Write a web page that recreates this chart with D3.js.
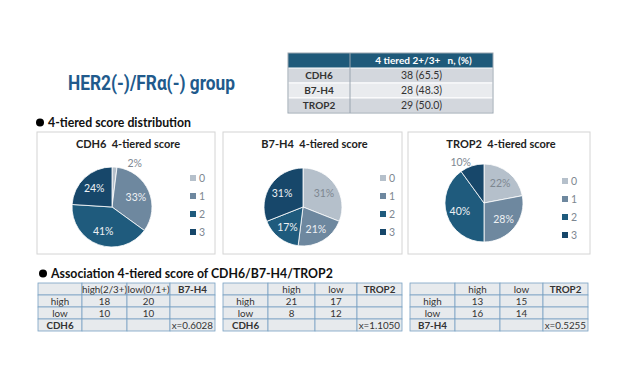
<!DOCTYPE html>
<html>
<head>
<meta charset="utf-8">
<script src="https://cdn.jsdelivr.net/npm/d3@7"></script>
<style>
  body { margin: 0; background: #fff; }
  text { font-family: Lato, "Open Sans", sans-serif; }
</style>
</head>
<body>
<div id="chart"></div>
<script>
const width = 620;
const height = 377;

// data
const scoreLevels = ["0", "1", "2", "3"];
const markers = ["CDH6", "B7-H4", "TROP2"];
const cdh6Pct = [2, 33, 41, 24];
const b7h4Pct = [31, 21, 17, 31];
const trop2Pct = [22, 28, 40, 10];
const posCounts = ["38 (65.5)", "28 (48.3)", "29 (50.0)"];

// association tables
const assocHeaders = [["high(2/3+)", "low(0/1+)", "B7-H4"], ["high", "low", "TROP2"], ["high", "low", "TROP2"]];
const assocRowMarker = ["CDH6", "CDH6", "B7-H4"];
const assocHigh = [[18, 20], [21, 17], [13, 15]];
const assocLow = [[10, 10], [8, 12], [16, 14]];
const assocX = ["x=0.6028", "x=1.1050", "x=0.5255"];

const colors = d3.scaleOrdinal().domain(scoreLevels)
  .range(["#b5c0cb", "#6e889f", "#1f5b7d", "#17476a"]);

const svg = d3.select("#chart").append("svg")
  .attr("width", width).attr("height", height);

// main title (condensed look forced with textLength)
svg.append("text")
  .attr("x", 68).attr("y", 90)
  .attr("textLength", 167).attr("lengthAdjust", "spacingAndGlyphs")
  .style("font-family", "Roboto, 'Liberation Sans', sans-serif")
  .style("font-weight", "bold")
  .style("font-size", "20px")
  .attr("fill", "#215a8c")
  .text("HER2(-)/FRα(-) group");

// top summary table
const tt = { x: 288, y: 53, w: 205, col: 62, headH: 15, rowH: 15 };
const tg = svg.append("g");
tg.append("rect").attr("x", tt.x).attr("y", tt.y).attr("width", tt.w).attr("height", tt.headH)
  .attr("fill", "#1f5a7a");
tg.append("text").attr("x", tt.x + tt.col + (tt.w - tt.col) / 2 + 2).attr("y", tt.y + 11)
  .attr("text-anchor", "middle").attr("fill", "#fff").style("font-weight", "bold")
  .style("font-size", "10px").style("white-space", "pre")
  .text("4 tiered 2+/3+   n, (%)");
markers.forEach((m, i) => {
  const y = tt.y + tt.headH + i * tt.rowH;
  tg.append("rect").attr("x", tt.x).attr("y", y).attr("width", tt.w).attr("height", tt.rowH)
    .attr("fill", i === 1 ? "#e9ebee" : "#d3d7dd").attr("stroke", "#fff").attr("stroke-width", 1);
  tg.append("text").attr("x", tt.x + tt.col / 2).attr("y", y + 11)
    .attr("text-anchor", "middle").style("font-weight", "bold").style("font-size", "10px")
    .attr("fill", "#333").text(m);
  tg.append("text").attr("x", tt.x + tt.col + (tt.w - tt.col) / 2).attr("y", y + 11)
    .attr("text-anchor", "middle").style("font-size", "10.5px")
    .attr("fill", "#333").text(posCounts[i]);
});
tg.append("line").attr("x1", tt.x + tt.col).attr("x2", tt.x + tt.col)
  .attr("y1", tt.y).attr("y2", tt.y + tt.headH + 3 * tt.rowH).attr("stroke", "#9aa5b0");
tg.append("rect").attr("x", tt.x).attr("y", tt.y).attr("width", tt.w).attr("height", tt.headH + 3 * tt.rowH)
  .attr("fill", "none").attr("stroke", "#9aa5b0");

// section headings
function heading(x, y, txt) {
  svg.append("circle").attr("cx", x).attr("cy", y - 4.5).attr("r", 4).attr("fill", "#000");
  svg.append("text").attr("x", x + 8).attr("y", y).style("font-weight", "bold")
    .style("font-size", "12.3px").attr("fill", "#111").text(txt);
}
heading(40, 127, "4-tiered score distribution");
heading(43, 278, "Association 4-tiered score of CDH6/B7-H4/TROP2");

// pie panels
const panels = [
  { name: "CDH6", pct: cdh6Pct, x: 37, w: 178, cx: 112, cy: 207, r: 40, legX: 193, legY: 178 },
  { name: "B7-H4", pct: b7h4Pct, x: 223, w: 179, cx: 303, cy: 207, r: 39, legX: 383, legY: 178 },
  { name: "TROP2", pct: trop2Pct, x: 408, w: 182, cx: 484, cy: 203, r: 39, legX: 565, legY: 181 }
];

const pie = d3.pie().sort(null).value(d => d.v);

panels.forEach(p => {
  const g = svg.append("g");
  g.append("rect").attr("x", p.x).attr("y", 132).attr("width", p.w).attr("height", 122)
    .attr("fill", "#fff").attr("stroke", "#d4d4d4");
  g.append("text").attr("x", p.x + p.w / 2 + 2).attr("y", 148)
    .attr("text-anchor", "middle").style("font-weight", "bold").style("font-size", "11px")
    .style("white-space", "pre").attr("fill", "#222")
    .text(p.name + "  4-tiered score");

  const data = p.pct.map((v, i) => ({ k: scoreLevels[i], v: v }));
  const arcs = pie(data);
  const arc = d3.arc().innerRadius(0).outerRadius(p.r);
  const labelArc = d3.arc().innerRadius(p.r * 0.65).outerRadius(p.r * 0.65);
  const pg = g.append("g").attr("transform", `translate(${p.cx},${p.cy})`);
  pg.selectAll("path").data(arcs).enter().append("path")
    .attr("d", arc).attr("fill", d => colors(d.data.k))
    .attr("stroke", "#fff").attr("stroke-width", 0.8);

  pg.selectAll("text.lbl").data(arcs).enter().append("text")
    .attr("class", "lbl")
    .attr("transform", d => {
      if (d.data.v < 12) {
        // small slices get their label outside the pie
        const a = (d.startAngle + d.endAngle) / 2;
        const rr = p.r + 4;
        const x = Math.sin(a) * rr + (Math.sin(a) >= 0 ? 20 : -10);
        const y = -Math.cos(a) * rr + 4;
        return `translate(${x},${y})`;
      }
      const c = labelArc.centroid(d);
      return `translate(${c[0]},${c[1] + 4})`;
    })
    .attr("text-anchor", "middle").style("font-size", "10.5px")
    .attr("fill", d => (d.data.v < 12 || d.data.k === "0") ? "#7d8791" : "#eef1f4")
    .text(d => d.data.v + "%");

  const lg = g.append("g");
  scoreLevels.forEach((k, i) => {
    const y = p.legY + i * 18;
    lg.append("rect").attr("x", p.legX - 3).attr("y", y - 3).attr("width", 6).attr("height", 6)
      .attr("fill", colors(k));
    lg.append("text").attr("x", p.legX + 6).attr("y", y + 4).style("font-size", "10.5px")
      .attr("fill", "#7d8791").text(k);
  });
});

// association tables
const assocX0 = [[38, 82, 127, 170, 215], [223, 268, 315, 357, 402], [410, 455, 500, 543, 588]];
const rowY = [283, 295, 307, 319, 331];

assocX0.forEach((cols, t) => {
  const g = svg.append("g");
  const rows = [
    ["", assocHeaders[t][0], assocHeaders[t][1], assocHeaders[t][2]],
    ["high", assocHigh[t][0], assocHigh[t][1], ""],
    ["low", assocLow[t][0], assocLow[t][1], ""],
    [assocRowMarker[t], "", "", assocX[t]]
  ];
  rows.forEach((row, r) => {
    row.forEach((cell, c) => {
      g.append("rect").attr("x", cols[c]).attr("y", rowY[r])
        .attr("width", cols[c + 1] - cols[c]).attr("height", rowY[r + 1] - rowY[r])
        .attr("fill", "#e7eaed").attr("stroke", "#79a1c3").attr("stroke-width", 0.8);
      const bold = (r === 0 && c === 3) || (r === 3 && c === 0);
      const right = (r === 3 && c === 3);
      g.append("text")
        .attr("x", right ? cols[c + 1] - 2 : (cols[c] + cols[c + 1]) / 2)
        .attr("y", rowY[r] + 9.5)
        .attr("text-anchor", right ? "end" : "middle")
        .style("font-size", "9.8px").style("font-weight", bold ? "bold" : "normal")
        .attr("fill", "#333").text(cell);
    });
  });
});
</script>
</body>
</html>
